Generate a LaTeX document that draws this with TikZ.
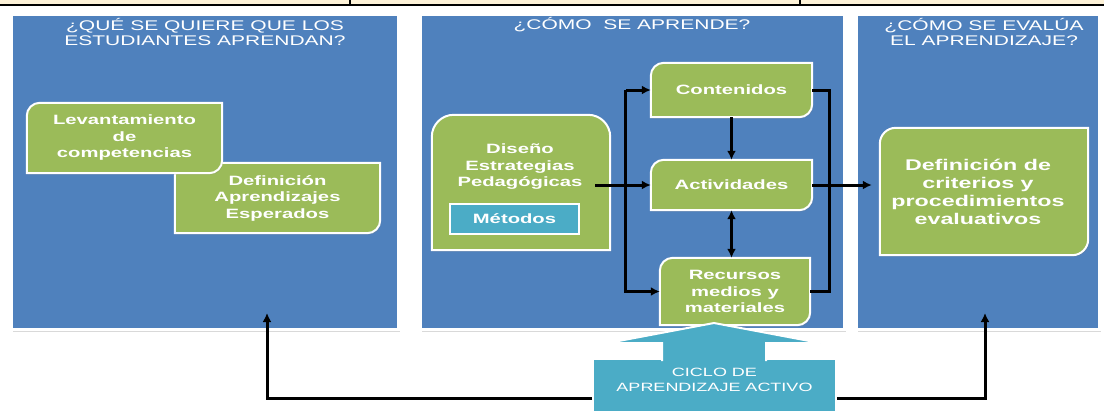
\documentclass[tikz,border=0pt]{standalone}
\usepackage{fontspec}
\setmainfont{Liberation Sans}[FakeStretch=1.5]
\usetikzlibrary{arrows.meta, positioning, calc, shadows}
\definecolor{panelblue}{HTML}{4F81BD}
\definecolor{tilegreen}{HTML}{9BBB59}
\definecolor{methodteal}{HTML}{4BACC6}
\definecolor{stripcream}{HTML}{FDF2D8}
\pgfdeclarelayer{back}
\pgfdeclarelayer{tiles}
\pgfsetlayers{back,tiles,main}

\begin{document}
\begin{tikzpicture}[x=1pt, y=-1pt,
  panel/.style={draw=white, line width=3pt, fill=panelblue, drop shadow={shadow xshift=1.5pt, shadow yshift=-2.5pt, opacity=0.3}},
  paneltitle/.style={text=white, align=center, inner sep=0pt, font=\fontsize{14}{15}\selectfont},
  tile/.style={text=white, align=center, inner sep=0pt, font=\bfseries\fontsize{13.5}{16.5}\selectfont},
  tileshape/.style={fill=tilegreen, draw=white, line width=2pt, drop shadow={shadow xshift=1pt, shadow yshift=-1.5pt, opacity=0.25}},
  method/.style={draw=white, line width=2pt, fill=methodteal, text=white, inner sep=0pt, font=\bfseries\fontsize{13.5}{16.5}\selectfont},
  arr/.style={line width=3pt, -{Latex[length=9pt,width=9pt]}},
  arrboth/.style={line width=3pt, {Latex[length=9pt,width=9pt]}-{Latex[length=9pt,width=9pt]}},
  link/.style={line width=3pt}]
  \useasboundingbox (0,0) rectangle (1104,410);

  % strip of the table above
  \fill[stripcream] (0,0) rectangle (1104,5);
  \draw[line width=2.5pt] (0,5) -- (1104,5);
  \draw[line width=1.2pt] (350,0) -- (350,5) (800,0) -- (800,5);

  % the three panels
  \begin{pgfonlayer}{back}
    \node[panel, minimum width=387pt, minimum height=315pt] (p1) at (205,172) {};
    \node[panel, minimum width=424pt, minimum height=315pt] (p2) at (632.5,172) {};
    \node[panel, minimum width=243pt, minimum height=315pt] (p3) at (978,172) {};
  \end{pgfonlayer}
  \node[paneltitle] (t1) at (205,32) {¿QUÉ SE QUIERE QUE LOS\\ESTUDIANTES APRENDAN?};
  \node[paneltitle] (t2) at (632,25) {¿CÓMO~~SE APRENDE?};
  \node[paneltitle] (t3) at (984,32) {¿CÓMO SE EVALÚA\\EL APRENDIZAJE?};

  % tiles
  \node[tile, minimum width=195pt, minimum height=70pt] (lev) at (124.5,138) {Levantamiento\\de\\competencias};
  \node[tile, minimum width=205pt, minimum height=70pt] (defa) at (277.5,198) {Definición\\Aprendizajes\\Esperados};
  \node[tile, minimum width=178pt, minimum height=135pt] (dis) at (521,182.5) {};
  \node[tile] (distxt) at (520,167) {Diseño\\Estrategias\\Pedagógicas};
  \node[method, minimum width=129pt, minimum height=30pt] (met) at (514.5,219) {Métodos};
  \node[tile, minimum width=161pt, minimum height=54pt] (cont) at (731.5,90) {Contenidos};
  \node[tile, minimum width=161pt, minimum height=50pt] (act) at (731.5,185) {Actividades};
  \node[tile, minimum width=150pt, minimum height=67pt] (rec) at (735,291.5) {Recursos\\medios y\\materiales};
  \node[tile, minimum width=208pt, minimum height=127pt, font=\bfseries\fontsize{15.5}{18}\selectfont] (crit) at (978,191.5) {Definición de\\criterios y\\procedimientos\\evaluativos};

  \begin{pgfonlayer}{tiles}
    \foreach \n in {defa,lev,cont,act,rec}
      \draw[tileshape] (\n.west) [rounded corners=13pt] -- (\n.north west) [sharp corners] -- (\n.north east) [rounded corners=13pt] -- (\n.south east) [sharp corners] -- (\n.south west) -- cycle;
    \draw[tileshape] ([xshift=6pt]crit.west) [rounded corners=16pt] -- ([xshift=6pt]crit.north west) [sharp corners] -- ([xshift=6pt]crit.north east) [rounded corners=16pt] -- ([xshift=6pt]crit.south east) [sharp corners] -- ([xshift=6pt]crit.south west) -- cycle;
    \draw[tileshape] (dis.west) [rounded corners=22pt] -- (dis.north west) -- (dis.north east) [sharp corners] -- (dis.south east) -- (dis.south west) -- cycle;
  \end{pgfonlayer}

  % connectors
  \draw[arr] ($(dis.east |- act.west)+(-15,0)$) -- (act.west);
  \draw[arr] ([xshift=-25pt]cont.west) -- (cont.west);
  \draw[arr] ([xshift=-25pt]cont.west) |- (rec.west);
  \draw[arr] (cont.south) -- (act.north);
  \draw[arrboth] (act.south) -- (act.south |- rec.north);
  \draw[link] (cont.east) -- ++(17,0) |- (rec.east);
  \draw[arr, shorten >=2pt] (act.east) -- (act.east -| crit.west);

  % callout
  \node[draw=white, line width=2pt, fill=methodteal, minimum width=243pt, minimum height=78pt, inner sep=0pt] (ciclo) at (714.5,398) {};
  \draw[draw=white, line width=2pt, fill=methodteal] (662,361) -- (662,343) -- (608,343) -- (714,323) -- (820,343) -- (766,343) -- (766,361);
  \node[paneltitle, font=\fontsize{12}{15}\selectfont] (ciclotxt) at (714.5,380) {CICLO DE\\APRENDIZAJE ACTIVO};

  \coordinate (fbL) at (267,313);
  \coordinate (fbR) at (985,313);
  \draw[arr] (ciclo.west) -| (fbL);
  \draw[arr] (ciclo.east) -| (fbR);
\end{tikzpicture}
\end{document}
